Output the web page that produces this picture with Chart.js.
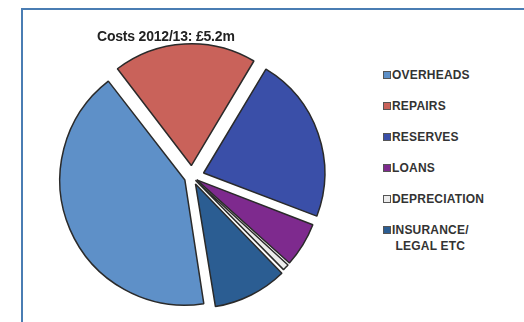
<!DOCTYPE html>
<html>
<head>
<meta charset="utf-8">
<script src="https://cdn.jsdelivr.net/npm/chart.js@4.4.1/dist/chart.umd.min.js"></script>
<style>
  body { margin: 0; width: 524px; height: 322px; background: #fff; overflow: hidden; position: relative; font-family: "Liberation Sans", Arial, sans-serif; }
  .frame { position: absolute; left: 21px; top: 8px; width: 520px; height: 330px; border-top: 2px solid #4a7db3; border-left: 2px solid #4a7db3; }
  #pie { position: absolute; left: 30px; top: 15px; }
  .title { position: absolute; left: 97px; top: 28px; font-size: 14px; font-weight: bold; color: #222; letter-spacing: -0.2px; white-space: nowrap; }
  .legend { position: absolute; left: 383px; top: 67px; }
  .legend .item { display: flex; align-items: flex-start; height: 31px; font-size: 12px; font-weight: bold; color: #333; letter-spacing: 0.2px; line-height: 16px; }
  .legend .box { width: 6px; height: 6px; border: 1px solid #555; margin-top: 4px; margin-right: 1px; flex: none; }
</style>
</head>
<body>
<div class="frame"></div>
<canvas id="pie" width="324" height="324"></canvas>
<div class="title" id="title"></div>
<div class="legend" id="legend"></div>
<script>
const title = 'Costs 2012/13: £5.2m';
const categories = ['OVERHEADS', 'REPAIRS', 'RESERVES', 'LOANS', 'DEPRECIATION', 'INSURANCE/ LEGAL ETC'];
const shares = [42.1, 19.0, 22.2, 5.9, 1.0, 9.8];
const colors = ['#5e90c8', '#c9625a', '#3a4fa8', '#7e2a8e', '#ececec', '#2b5d92'];
// arc offset option (chart.js scales it down by slice angle)
const explode = [31, 46, 49, 22, 19, 31];

document.getElementById('title').textContent = title;

const legend = document.getElementById('legend');
categories.forEach((c, i) => {
  const item = document.createElement('div');
  item.className = 'item';
  const box = document.createElement('span');
  box.className = 'box';
  box.style.background = colors[i];
  const txt = document.createElement('span');
  txt.innerHTML = c.replace('/ ', '/<br>&nbsp;');
  item.appendChild(box);
  item.appendChild(txt);
  legend.appendChild(item);
});

new Chart(document.getElementById('pie'), {
  type: 'pie',
  data: {
    labels: categories,
    datasets: [{
      data: shares,
      backgroundColor: colors,
      borderColor: '#2a2a2a',
      borderWidth: 1.5,
      offset: explode,
      hoverOffset: 0,
      clip: false
    }]
  },
  options: {
    responsive: false,
    animation: false,
    rotation: 171,
    radius: 121,
    layout: { padding: 0 },
    plugins: {
      legend: { display: false },
      tooltip: { enabled: false }
    }
  }
});
</script>
</body>
</html>
